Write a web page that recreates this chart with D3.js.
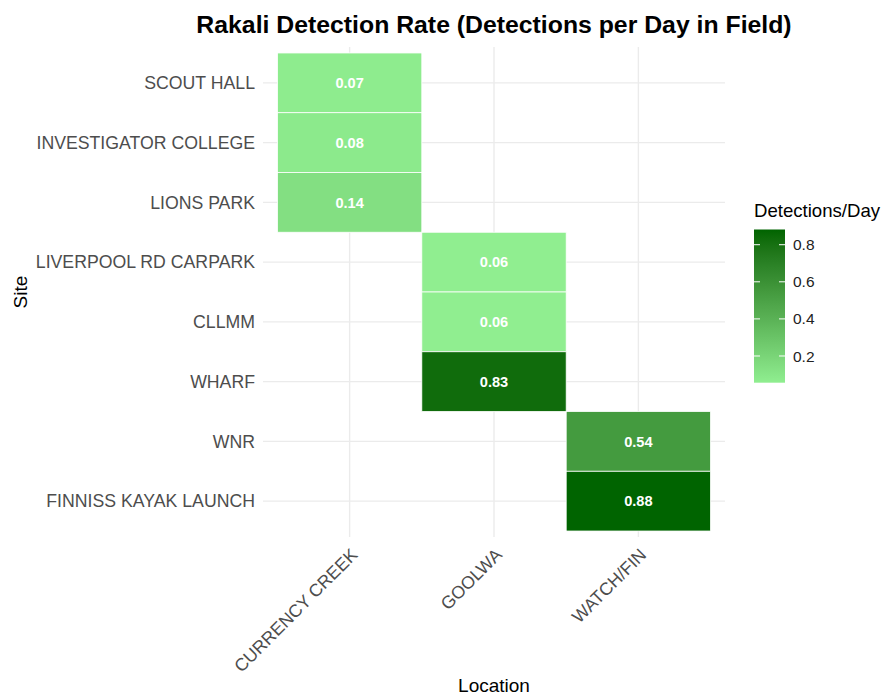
<!DOCTYPE html>
<html>
<head>
<meta charset="utf-8">
<script src="https://cdn.jsdelivr.net/npm/d3@7"></script>
<style>
  html, body { margin: 0; padding: 0; background: #ffffff; }
  svg { display: block; font-family: "Liberation Sans", Arial, sans-serif; }
</style>
</head>
<body>
<svg id="chart" width="889" height="696"></svg>
<script>
// ---- Data ----
const sites = ["SCOUT HALL", "INVESTIGATOR COLLEGE", "LIONS PARK", "LIVERPOOL RD CARPARK",
               "CLLMM", "WHARF", "WNR", "FINNISS KAYAK LAUNCH"];
const locations = ["CURRENCY CREEK", "GOOLWA", "WATCH/FIN"];
const siteLocation = ["CURRENCY CREEK", "CURRENCY CREEK", "CURRENCY CREEK", "GOOLWA",
                      "GOOLWA", "GOOLWA", "WATCH/FIN", "WATCH/FIN"];
const rates = [0.07, 0.08, 0.14, 0.058, 0.056, 0.83, 0.54, 0.882];
const legendTicks = [0.2, 0.4, 0.6, 0.8];

const titleText = "Rakali Detection Rate (Detections per Day in Field)";
const xTitle = "Location";
const yTitle = "Site";
const legendTitle = "Detections/Day";

const cells = sites.map((s, i) => ({ site: s, location: siteLocation[i], rate: rates[i] }));

// ---- Layout ----
const svg = d3.select("#chart");
const panel = { left: 263, right: 725, top: 47, bottom: 537 };

const x = d3.scaleBand().domain(locations).range([panel.left, panel.right])
  .paddingInner(0).paddingOuter(0.1);
const y = d3.scaleBand().domain(sites).range([panel.top, panel.bottom])
  .paddingInner(0).paddingOuter(0.1);

const ext = d3.extent(rates);
const norm = d3.scaleLinear().domain(ext).range([0, 1]);
const interp = d3.interpolateLab("#90EE90", "#006400");
const color = v => interp(norm(v));

// ---- Grid ----
const grid = svg.append("g");
grid.selectAll("line.h").data(sites).join("line")
  .attr("x1", panel.left).attr("x2", panel.right)
  .attr("y1", d => y(d) + y.bandwidth() / 2).attr("y2", d => y(d) + y.bandwidth() / 2)
  .attr("stroke", "#EBEBEB").attr("stroke-width", 1.4);
grid.selectAll("line.v").data(locations).join("line")
  .attr("y1", panel.top).attr("y2", panel.bottom)
  .attr("x1", d => x(d) + x.bandwidth() / 2).attr("x2", d => x(d) + x.bandwidth() / 2)
  .attr("stroke", "#EBEBEB").attr("stroke-width", 1.4);

// ---- Tiles ----
const tiles = svg.append("g");
tiles.selectAll("rect").data(cells).join("rect")
  .attr("x", d => x(d.location)).attr("y", d => y(d.site))
  .attr("width", x.bandwidth()).attr("height", y.bandwidth())
  .attr("fill", d => color(d.rate))
  .attr("stroke", "#ffffff").attr("stroke-width", 0.8);
tiles.selectAll("text").data(cells).join("text")
  .attr("x", d => x(d.location) + x.bandwidth() / 2)
  .attr("y", d => y(d.site) + y.bandwidth() / 2)
  .attr("dy", "0.36em")
  .attr("text-anchor", "middle")
  .attr("fill", "#ffffff").attr("font-weight", "bold").attr("font-size", "14.6px")
  .text(d => d3.format(".2f")(d.rate));

// ---- Axes ----
const yAxis = d3.axisLeft(y).tickSize(0).tickPadding(8);
const gy = svg.append("g").attr("transform", `translate(${panel.left},0)`).call(yAxis);
gy.select(".domain").remove();
gy.selectAll("text").attr("font-size", "17.7px").attr("fill", "#4D4D4D")
  .attr("font-family", "Liberation Sans, Arial, sans-serif").attr("dy", "0.35em");

const xAxis = d3.axisBottom(x).tickSize(0).tickPadding(0);
const gx = svg.append("g").attr("transform", `translate(0,${panel.bottom + 10})`).call(xAxis);
gx.select(".domain").remove();
gx.selectAll("text")
  .attr("font-size", "17.7px").attr("fill", "#4D4D4D")
  .attr("font-family", "Liberation Sans, Arial, sans-serif")
  .attr("text-anchor", "end")
  .attr("x", 0).attr("y", 0).attr("dy", "0.72em")
  .attr("transform", "rotate(-45)");

// ---- Titles ----
const cx = (panel.left + panel.right) / 2;
svg.append("text").attr("x", cx).attr("y", 33).attr("text-anchor", "middle")
  .attr("font-size", "24.8px").attr("font-weight", "bold").attr("fill", "#000")
  .text(titleText);
svg.append("text").attr("x", cx).attr("y", 692).attr("text-anchor", "middle")
  .attr("font-size", "19px").attr("fill", "#000").text(xTitle);
svg.append("text").attr("transform", `translate(27,${(panel.top + panel.bottom) / 2}) rotate(-90)`)
  .attr("text-anchor", "middle").attr("font-size", "19px").attr("fill", "#000").text(yTitle);

// ---- Legend ----
const leg = { x: 754, w: 31, top: 229.5, bottom: 382.7 };
const ly = d3.scaleLinear().domain(ext).range([leg.bottom, leg.top]);
const defs = svg.append("defs");
const grad = defs.append("linearGradient").attr("id", "lg")
  .attr("x1", 0).attr("y1", 1).attr("x2", 0).attr("y2", 0);
d3.range(0, 1.0001, 0.05).forEach(t => {
  grad.append("stop").attr("offset", t).attr("stop-color", interp(t));
});
svg.append("text").attr("x", leg.x).attr("y", 217).attr("font-size", "18.6px")
  .attr("fill", "#000").text(legendTitle);
svg.append("rect").attr("x", leg.x).attr("y", leg.top)
  .attr("width", leg.w).attr("height", leg.bottom - leg.top).attr("fill", "url(#lg)");
const lt = svg.append("g");
lt.selectAll("line.l").data(legendTicks).join("line")
  .attr("x1", leg.x).attr("x2", leg.x + 6).attr("y1", d => ly(d)).attr("y2", d => ly(d))
  .attr("stroke", "#fff").attr("stroke-width", 1);
lt.selectAll("line.r").data(legendTicks).join("line")
  .attr("x1", leg.x + leg.w - 6).attr("x2", leg.x + leg.w).attr("y1", d => ly(d)).attr("y2", d => ly(d))
  .attr("stroke", "#fff").attr("stroke-width", 1);
lt.selectAll("text").data(legendTicks).join("text")
  .attr("x", leg.x + leg.w + 8).attr("y", d => ly(d)).attr("dy", "0.36em")
  .attr("font-size", "15.5px").attr("fill", "#222").text(d => d3.format(".1f")(d));
</script>
</body>
</html>
